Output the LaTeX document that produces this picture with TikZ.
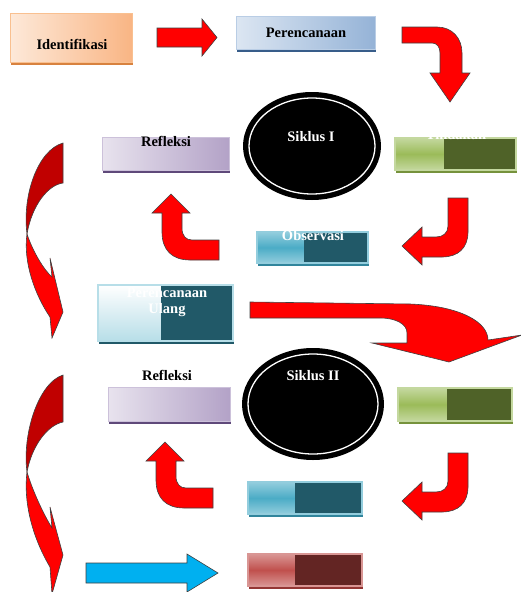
\documentclass[tikz,border=0pt]{standalone}
\usepackage{fontspec}
\setmainfont{Liberation Serif}
\usetikzlibrary{shapes.geometric,shadows,calc}
\definecolor{arrowred}{HTML}{FF0000}
\definecolor{darkred}{HTML}{C00000}
\definecolor{bluearr}{HTML}{00B0F0}
\definecolor{gtop}{HTML}{C4D89F}\definecolor{gmid}{HTML}{9BBB59}\definecolor{gdark}{HTML}{4F6228}\definecolor{gsh}{HTML}{76923C}
\definecolor{ttop}{HTML}{93CDDD}\definecolor{tmid}{HTML}{4BACC6}\definecolor{tdark}{HTML}{215968}\definecolor{tsh}{HTML}{31859C}
\definecolor{rtop}{HTML}{D99694}\definecolor{rmid}{HTML}{C0504D}\definecolor{rdark}{HTML}{632523}\definecolor{rsh}{HTML}{943634}
\definecolor{ptop}{HTML}{FFFFFF}\definecolor{pmid}{HTML}{DBEEF3}\definecolor{pbot}{HTML}{B7DEE8}
\definecolor{oL}{HTML}{FDE9D9}\definecolor{oR}{HTML}{F9B584}\definecolor{oB}{HTML}{F9C090}\definecolor{oS}{HTML}{D8823F}
\definecolor{bL}{HTML}{DCE6F2}\definecolor{bR}{HTML}{95B3D7}\definecolor{bB}{HTML}{B9CDE5}\definecolor{bS}{HTML}{385D8A}
\definecolor{vL}{HTML}{E8E3EE}\definecolor{vR}{HTML}{B3A2C7}\definecolor{vB}{HTML}{CCC1DA}\definecolor{vS}{HTML}{5F497A}
\begin{document}
\begin{tikzpicture}[x=1pt,y=-1pt,
  lbl/.style={font=\fontsize{14.5}{16}\selectfont\bfseries, inner sep=0pt},
  redarr/.style={fill=arrowred, draw=black!75, line width=0.6pt, line join=miter},
  darkarr/.style={fill=darkred, draw=black!75, line width=0.6pt, line join=miter},
  bluearrow/.style={fill=bluearr, draw=black!75, line width=0.6pt, line join=miter},
  onebox/.style n args={4}{draw=#3, line width=0.8pt, left color=#1, right color=#2,
    inner sep=0pt, drop shadow={shadow xshift=0.5pt, shadow yshift=-2.5pt, fill=#4, opacity=1}},
  twobox/.style n args={7}{draw=#1, line width=1.2pt, top color=#2, bottom color=#4, middle color=#3,
    inner sep=0pt,
    path picture={\fill[#5] ($(path picture bounding box.north west)!#7!(path picture bounding box.north east)$) rectangle (path picture bounding box.south east);},
    drop shadow={shadow xshift=0.5pt, shadow yshift=-2.5pt, fill=#6, opacity=1}},
  siklus/.style={ellipse, fill=black, inner sep=0pt}
]
\useasboundingbox (0,0) rectangle (520,592);
\fill[white] (0,0) rectangle (520,592);

% ---------- boxes ----------
\node[onebox={oL}{oR}{oB}{oS}, minimum width=122pt, minimum height=49pt] (ident) at (71,37.5) {};
\node[onebox={bL}{bR}{bB}{bS}, minimum width=139pt, minimum height=33pt] (renc) at (305.5,32.5) {};
\node[onebox={vL}{vR}{vB}{vS}, minimum width=127pt, minimum height=33pt] (refl1) at (165.5,153.5) {};
\node[onebox={vL}{vR}{vB}{vS}, minimum width=122pt, minimum height=34pt] (refl2) at (169,404) {};

\node[twobox={gtop}{gtop}{gmid}{gtop}{gdark}{gsh}{0.405}, minimum width=121pt, minimum height=32pt] (tind1) at (455.5,154) {};
\node[twobox={gtop}{gtop}{gmid}{gtop}{gdark}{gsh}{0.43}, minimum width=114pt, minimum height=33pt] (tind2) at (455,404.5) {};
\node[twobox={ttop}{ttop}{tmid}{ttop}{tdark}{tsh}{0.42}, minimum width=111pt, minimum height=31pt] (obs1) at (312.5,247.5) {};
\node[twobox={ttop}{ttop}{tmid}{ttop}{tdark}{tsh}{0.41}, minimum width=114pt, minimum height=32pt] (obs2) at (305,498) {};
\node[twobox={pbot}{ptop}{pmid}{pbot}{tdark}{tdark}{0.47}, minimum width=135pt, minimum height=56pt] (ulang) at (165.5,313) {};
\node[twobox={rtop}{rtop}{rmid}{rtop}{rdark}{rsh}{0.41}, minimum width=114pt, minimum height=32pt] (hasil) at (305,570) {};

% ---------- cycles ----------
\node[siklus, minimum width=138pt, minimum height=108pt] (sik1) at (312,146) {};
\draw[white, line width=1.3pt] (sik1.center) ellipse [x radius=63, y radius=48];
\node[siklus, minimum width=142pt, minimum height=112pt] (sik2) at (313,404) {};
\draw[white, line width=1.3pt] (sik2.center) ellipse [x radius=65, y radius=50];

% ---------- arrows ----------
\path[redarr] (157,28) -- (202,28) -- (202,19) -- (217,37.5) -- (202,56) -- (202,47) -- (157,47) -- cycle;

\path[redarr] (402,27) -- (437,27) .. controls (452,27) and (462,38) .. (462,53) -- (462,73) -- (470,73)
  -- (450,102) -- (430,73) -- (440,73) -- (440,53) .. controls (440,47) and (437,43) .. (432,43) -- (402,43) -- cycle;

\foreach \dy in {0,255}{
\begin{scope}[shift={(0,\dy)}]
\path[redarr] (448,198) -- (468,198) -- (468,232) .. controls (468,248) and (458,257) .. (442,257) -- (422,257)
  -- (422,265) -- (402,246) -- (422,227) -- (422,237) -- (436,237) .. controls (443,237) and (448,233) .. (448,226) -- cycle;
\end{scope}}

\path[redarr] (219,240) -- (192,240) .. controls (186,240) and (182,236) .. (182,228) -- (182,213) -- (190,213)
  -- (171,194) -- (152,213) -- (162,213) -- (162,232) .. controls (162,250) and (172,260) .. (190,260) -- (219,260) -- cycle;
\begin{scope}[shift={(-6,248)}]
\path[redarr] (219,240) -- (192,240) .. controls (186,240) and (182,236) .. (182,228) -- (182,213) -- (190,213)
  -- (171,194) -- (152,213) -- (162,213) -- (162,232) .. controls (162,250) and (172,260) .. (190,260) -- (219,260) -- cycle;
\end{scope}

\path[redarr] (250,302) -- (410,304) .. controls (460,306) and (488,322) .. (488,340) -- (522,335) -- (449,362)
  -- (372,343) -- (407,343) -- (407,333) .. controls (407,324) and (396,318) .. (380,318) -- (250,318) -- cycle;

% left curved arrows
\path[darkarr] (63,143) -- (63,183) .. controls (48,185) and (32,205) .. (27,234) .. controls (22,195) and (38,150) .. (63,143) -- cycle;
\path[redarr] (27,234) .. controls (33,252) and (44,270) .. (52,277) -- (50,258) -- (63,312) -- (52,338) -- (50,317)
  .. controls (35,295) and (23,262) .. (27,234) -- cycle;

\path[darkarr] (63,375) -- (63,422) .. controls (48,425) and (32,445) .. (27,472) .. controls (22,435) and (38,383) .. (63,375) -- cycle;
\path[redarr] (27,472) .. controls (33,492) and (44,515) .. (52,528) -- (50,507) -- (63,555) -- (52,594) -- (50,567)
  .. controls (34,540) and (23,505) .. (27,472) -- cycle;

\path[bluearrow] (86,563) -- (187,563) -- (187,554) -- (218,573) -- (187,592) -- (187,583) -- (86,583) -- cycle;

% ---------- texts ----------
\node[lbl, anchor=base] (tIdent) at (72,49) {Identifikasi};
\node[lbl, anchor=base] (tRenc) at (306,37) {Perencanaan};
\node[lbl, anchor=base] (tRefl1) at (166,146) {Refleksi};
\node[lbl, anchor=base, text=white] (tSik1) at (311,141.5) {Siklus I};
\node[lbl, anchor=base, text=white] (tTind1) at (456,139.5) {Tindakan};
\node[lbl, anchor=base, text=white] (tObs1) at (313,240) {Observasi};
\node[lbl, anchor=base, text=white] (tUl1) at (167,297) {Perencanaan};
\node[lbl, anchor=base, text=white] (tUl2) at (167,313) {Ulang};
\node[lbl, anchor=base] (tRefl2) at (167,380) {Refleksi};
\node[lbl, anchor=base, text=white] (tSik2) at (313,380) {Siklus II};
\end{tikzpicture}
\end{document}
